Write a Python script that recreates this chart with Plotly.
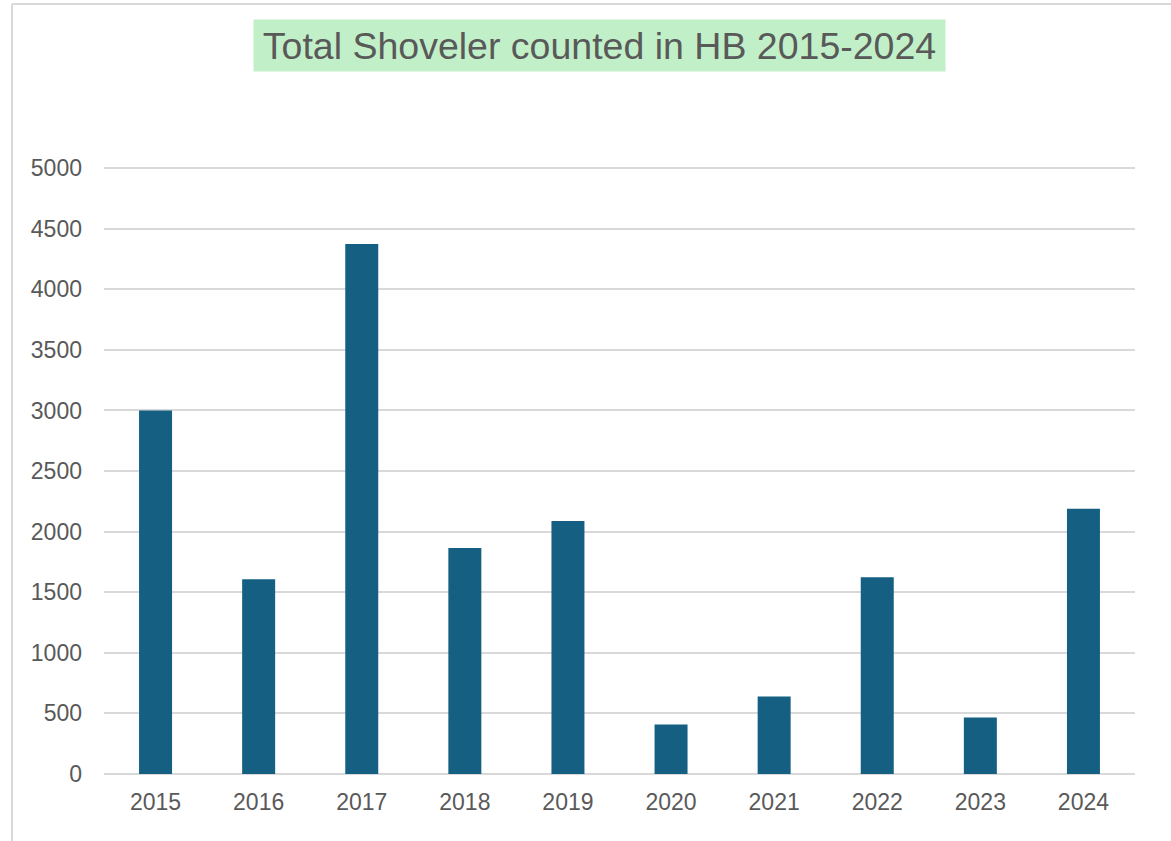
import plotly.graph_objects as go

years = ["2015", "2016", "2017", "2018", "2019", "2020", "2021", "2022", "2023", "2024"]
counts = [3000, 1607, 4374, 1864, 2088, 409, 640, 1624, 467, 2188]
y_ticks = [0, 500, 1000, 1500, 2000, 2500, 3000, 3500, 4000, 4500, 5000]

OFF = 0  # page body margin removed by post_script below
W, H = 1171 - OFF, 841 - OFF
Y_MAX = 5050
# target positions in screenshot pixels
left_px, right_px, zero_px, top_tick_px = 104, 1135, 774, 168
ph = (zero_px - top_tick_px) * Y_MAX / 5000.0
L = left_px - OFF
R = W - (right_px - OFF)
B = H - (zero_px - OFF)
T = H - B - ph
FONT = "Liberation Sans, Arial, sans-serif"
TXT = "#595959"

fig = go.Figure(go.Bar(x=years, y=counts, marker=dict(color="#156082", line=dict(width=0)),
                       width=0.32, hoverinfo="skip"))

pw = W - L - R
def px_x(x):
    return (x - OFF - L) / pw
def px_y(y):
    return (H - B - (y - OFF)) / ph

fig.update_layout(
    width=W, height=H,
    margin=dict(l=L, r=R, t=T, b=B, autoexpand=False),
    paper_bgcolor="white", plot_bgcolor="white",
    showlegend=False,
    font=dict(family=FONT, color=TXT, size=23),
    xaxis=dict(type="category", showgrid=False, showline=False, zeroline=False,
               ticks="", ticklabelstandoff=12, tickfont=dict(size=23, color=TXT)),
    yaxis=dict(range=[0, Y_MAX], tickvals=y_ticks, ticktext=[str(v) for v in y_ticks],
               showgrid=True, gridcolor="#d9d9d9", gridwidth=1.5,
               zeroline=True, zerolinecolor="#d9d9d9", zerolinewidth=1.5,
               showline=False, ticks="", ticklabelstandoff=21,
               tickfont=dict(size=23, color=TXT)),
    shapes=[
        dict(type="line", xref="paper", yref="paper", x0=px_x(12), x1=px_x(12),
             y0=px_y(4), y1=px_y(900), line=dict(color="#d9d9d9", width=2)),
        dict(type="line", xref="paper", yref="paper", x0=px_x(12), x1=px_x(1250),
             y0=px_y(4), y1=px_y(4), line=dict(color="#d9d9d9", width=2)),
    ],
    annotations=[
        dict(text="Total Shoveler counted in HB 2015-2024", xref="paper", yref="paper",
             x=px_x(599.5), y=px_y(45.5), xanchor="center", yanchor="middle",
             showarrow=False, font=dict(size=37.5, color=TXT, family=FONT),
             bgcolor="#c1f0c8", borderpad=0, width=691, height=51),
    ],
)

fig.write_html("out.html", config={"displayModeBar": False},
               post_script="document.body.style.margin='0';document.body.style.overflow='hidden';")
